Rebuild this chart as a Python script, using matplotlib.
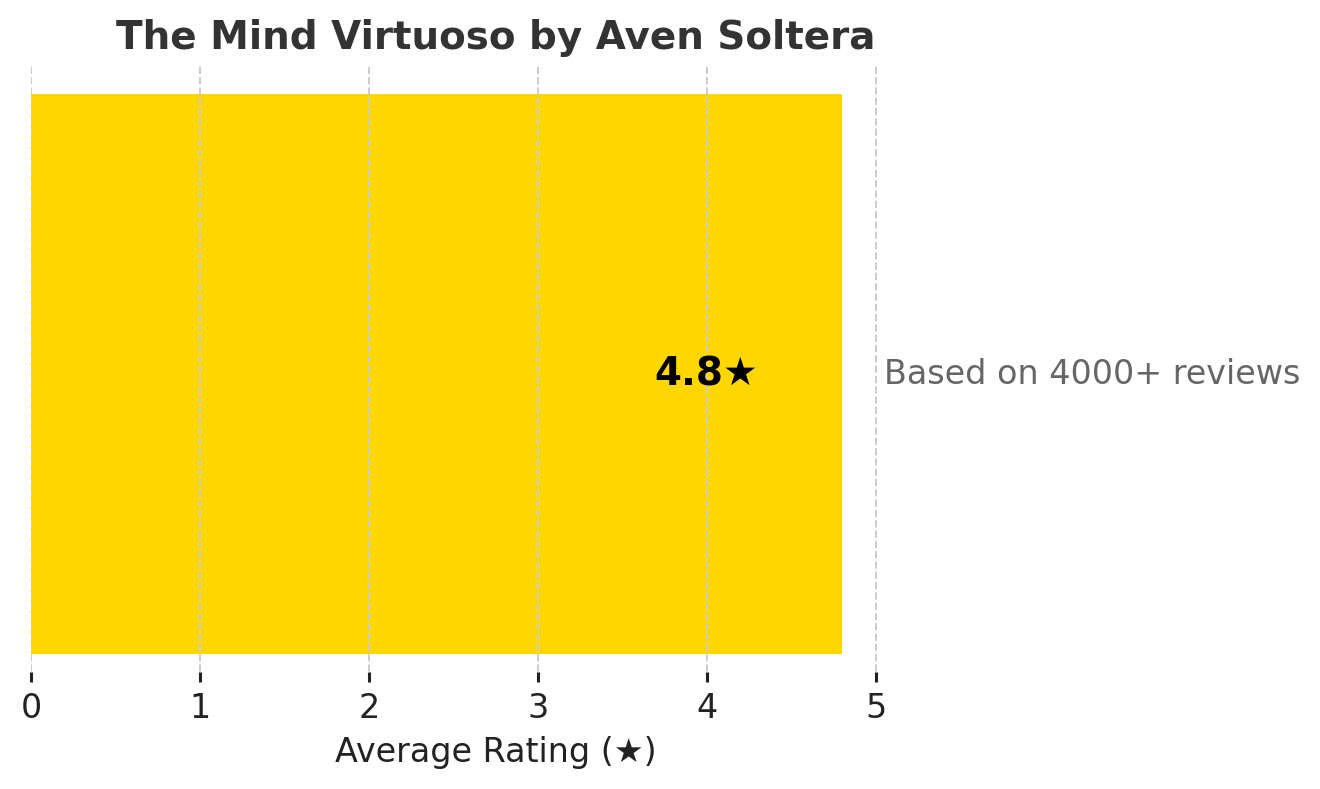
import matplotlib
matplotlib.use("Agg")
import matplotlib.pyplot as plt

# Data
books = ["The Mind Virtuoso"]
ratings = [4.8]
review_note = "Based on 4000+ reviews"
x_ticks = [0, 1, 2, 3, 4, 5]
title = "The Mind Virtuoso by Aven Soltera"
xlabel = "Average Rating (\u2605)"

plt.rcParams['font.family'] = ['DejaVu Sans']

fig = plt.figure(figsize=(6.6, 3.945), dpi=200)
W, H = 1320, 789
ax = fig.add_axes([31 / W, (H - 682) / H, 929.5 / W, 616 / H])

ax.barh(books, ratings, height=0.8, color="#FFD700", zorder=2)

ax.set_xlim(0, 5.5)
ax.set_xticks(x_ticks)
ax.set_xticklabels([str(t) for t in x_ticks])
ax.set_yticks([])

ax.grid(axis="x", linestyle="--", color="#cccccc", linewidth=0.7, zorder=3)
ax.grid(axis="y", visible=False)
ax.set_axisbelow(False)

for s in ax.spines.values():
    s.set_visible(False)

ax.tick_params(axis="x", direction="in", length=3.6, width=1.1, color="#222222",
               labelsize=12, labelcolor="#222222", pad=3.5)

ax.set_xlabel(xlabel, fontsize=12, color="#222222", labelpad=4)
ax.set_title(title, fontsize=14, fontweight="bold", color="#333333", pad=6)

for i, r in enumerate(ratings):
    ax.text(r - 0.5, i, f"{r}\u2605", ha="right", va="center",
            fontsize=14, fontweight="bold", color="black", zorder=4)
    ax.text(r + 0.25, i, review_note, ha="left", va="center",
            fontsize=12, color="#666666", clip_on=False, zorder=4)

fig.savefig("out.png", dpi=200)
